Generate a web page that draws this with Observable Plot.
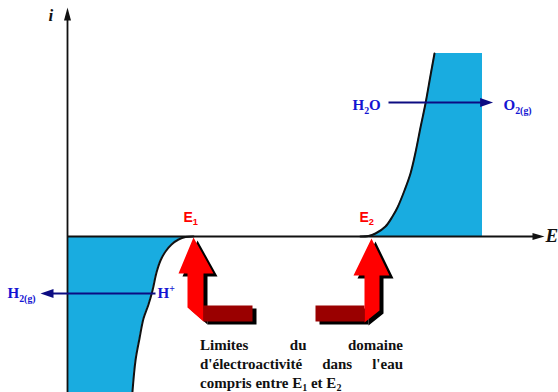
<!DOCTYPE html>
<html><head><meta charset="utf-8">
<script src="https://cdn.jsdelivr.net/npm/d3@7"></script>
<script src="https://cdn.jsdelivr.net/npm/@observablehq/plot@0.6"></script>
<style>
body{margin:0;background:#fff;}
#wrap{position:relative;width:558px;height:392px;overflow:hidden;background:#fff;}
#caption{position:absolute;left:200px;top:336px;width:203px;font-weight:bold;font-size:15px;line-height:19px;color:#111;}
#caption .j{text-align:justify;text-align-last:justify;}
#caption sub{font-size:10px;vertical-align:-3px;line-height:0;}
</style></head><body>
<div id="wrap"><div id="chart"></div><div id="caption"></div></div>
<script>
// ---- data (E in V, i in arbitrary units) ----
const cathodicE = [0.63, 0.59, 0.555, 0.52, 0.49, 0.465, 0.445, 0.425, 0.405, 0.38, 0.36, 0.34, 0.323];
const cathodicI = [0, -0.005, -0.03, -0.08, -0.15, -0.24, -0.36, -0.54, -0.68, -0.82, -1.02, -1.24, -1.6];
const anodicE = [1.465, 1.505, 1.54, 1.59, 1.625, 1.65, 1.685, 1.715, 1.74, 1.765, 1.79, 1.815, 1.835];
const anodicI = [0, 0.005, 0.03, 0.10, 0.20, 0.29, 0.46, 0.63, 0.84, 1.09, 1.33, 1.61, 1.83];
const anodicFillEdge = 2.075;

const axisLabels = [
  {text: "i", E: -0.095, i: 2.16, size: 17},
  {text: "E", E: 2.39, i: -0.05, size: 19}
];
const limitLabels = [
  {text: "E_{1}", E: 0.58, i: 0.15},
  {text: "E_{2}", E: 1.46, i: 0.15}
];
const speciesLabels = [
  {text: "H_{2}O", E: 1.425, i: 1.27},
  {text: "O_{2(g)}", E: 2.18, i: 1.27},
  {text: "H_{2(g)}", E: -0.30, i: -0.61},
  {text: "H^{+}", E: 0.45, i: -0.61}
];
const reactionArrows = [
  {E1: 1.605, i1: 1.34, E2: 2.07, i2: 1.34},
  {E1: 0.44, i1: -0.57, E2: -0.08, i2: -0.57}
];
const reactionHeads = [
  {E: 2.128, i: 1.34, dir: "right"},
  {E: -0.135, i: -0.57, dir: "left"}
];
// decorative 3D arrows pointing at E1 and E2 (vertices in E, i units)
const redArrowFront = [
  {id: "a1", E: 0.63, i: -0.01}, {id: "a1", E: 0.73, i: -0.37}, {id: "a1", E: 0.68, i: -0.37},
  {id: "a1", E: 0.68, i: -0.85}, {id: "a1", E: 0.60, i: -0.71}, {id: "a1", E: 0.60, i: -0.37},
  {id: "a1", E: 0.555, i: -0.37},
  {id: "a2", E: 1.52, i: -0.02}, {id: "a2", E: 1.61, i: -0.39}, {id: "a2", E: 1.56, i: -0.39},
  {id: "a2", E: 1.56, i: -0.74}, {id: "a2", E: 1.485, i: -0.86}, {id: "a2", E: 1.485, i: -0.39},
  {id: "a2", E: 1.43, i: -0.39}
];
const redArrowBase = [
  {id: "b1", E: 0.68, i: -0.69}, {id: "b1", E: 0.925, i: -0.69}, {id: "b1", E: 0.925, i: -0.85}, {id: "b1", E: 0.68, i: -0.85},
  {id: "b2", E: 1.24, i: -0.69}, {id: "b2", E: 1.485, i: -0.69}, {id: "b2", E: 1.485, i: -0.85}, {id: "b2", E: 1.24, i: -0.85}
];
const captionLines = ["Limites du domaine", "d'électroactivité dans l'eau", "compris entre E_{1} et E_{2}"];

// ---- font detection (pick the first installed family) ----
function pickFont(cands, generic) {
  const ctx = document.createElement("canvas").getContext("2d");
  const test = "Limites d'électroactivité Hgmw 0123";
  for (const base of ["monospace", "sans-serif"]) {
    ctx.font = `bold 30px ${base}`;
    const w0 = ctx.measureText(test).width;
    for (const f of cands) {
      ctx.font = `bold 30px "${f}", ${base}`;
      if (Math.abs(ctx.measureText(test).width - w0) > 0.5) return `"${f}", ${generic}`;
    }
  }
  return generic;
}
const serif = pickFont(["Liberation Serif", "Times New Roman", "Tinos", "DejaVu Serif", "Noto Serif", "Times"], "serif");
const sans = pickFont(["Liberation Sans", "Arial", "Arimo", "Helvetica"], "sans-serif");

// ---- build ----
const cathodic = cathodicE.map((e, k) => ({E: e, i: cathodicI[k]}));
const anodic = anodicE.map((e, k) => ({E: e, i: anodicI[k]}));

const head = (pts) => ({draw(ctx) { ctx.moveTo(pts[0][0], pts[0][1]); for (const p of pts.slice(1)) ctx.lineTo(p[0], p[1]); ctx.closePath(); }});
const upHead = head([[0, 0], [3.5, 13], [-3.5, 13]]);
const axisRightHead = head([[0, 0], [-12, 3.5], [-12, -3.5]]);
const rightHead = head([[0, 0], [-13, 4.5], [-13, -4.5]]);
const leftHead = head([[0, 0], [13, 4.5], [13, -4.5]]);

const BLUE = "#19ace0", NAVY = "#0c0c82", TXTBLUE = "#1414d2", INK = "#111";

const polys = (data, fill, extra = {}) => Plot.line(data, {x: "E", y: "i", z: "id", fill, stroke: "none", curve: "linear-closed", ...extra});

const chart = Plot.plot({
  width: 558, height: 392, margin: 0,
  x: {domain: [-0.335, 2.455], axis: null},
  y: {domain: [-1.56, 2.36], axis: null},
  style: {background: "transparent", overflow: "visible"},
  marks: [
    Plot.areaX(cathodic, {x1: 0, x2: "E", y: "i", fill: BLUE, curve: "catmull-rom", clip: true}),
    Plot.areaX(anodic, {x1: "E", x2: anodicFillEdge, y: "i", fill: BLUE, curve: "catmull-rom"}),
    Plot.ruleY([0], {x1: 0, x2: 2.33, stroke: INK, strokeWidth: 1.8}),
    Plot.ruleX([0], {y1: -1.6, y2: 2.2, stroke: INK, strokeWidth: 1.8}),
    Plot.dot([{E: 0, i: 2.29}], {x: "E", y: "i", symbol: upHead, fill: INK, stroke: "none"}),
    Plot.dot([{E: 2.385, i: 0}], {x: "E", y: "i", symbol: axisRightHead, fill: INK, stroke: "none"}),
    Plot.line(cathodic, {x: "E", y: "i", stroke: INK, strokeWidth: 2, curve: "catmull-rom", clip: true}),
    Plot.line(anodic, {x: "E", y: "i", stroke: INK, strokeWidth: 2, curve: "catmull-rom"}),
    Plot.link(reactionArrows, {x1: "E1", y1: "i1", x2: "E2", y2: "i2", stroke: NAVY, strokeWidth: 1.8}),
    Plot.dot(reactionHeads.filter(d => d.dir === "right"), {x: "E", y: "i", symbol: rightHead, fill: NAVY, stroke: "none"}),
    Plot.dot(reactionHeads.filter(d => d.dir === "left"), {x: "E", y: "i", symbol: leftHead, fill: NAVY, stroke: "none"}),
    polys(redArrowFront, "#000", {dx: 4, dy: 3}),
    polys(redArrowBase, "#000", {dx: 4, dy: 3}),
    polys(redArrowBase, "#9a0000"),
    polys(redArrowFront, "#ff0000"),
    Plot.text(axisLabels, {x: "E", y: "i", text: "text", fontSize: "size", textAnchor: "start", lineAnchor: "bottom",
      fontFamily: serif, fontWeight: "bold", fontStyle: "italic", fill: INK}),
    Plot.text(limitLabels, {x: "E", y: "i", text: "text", fontSize: 14, textAnchor: "start", lineAnchor: "bottom",
      fontFamily: sans, fontWeight: "bold", fill: "#ff0000"}),
    Plot.text(speciesLabels, {x: "E", y: "i", text: "text", fontSize: 15, textAnchor: "start", lineAnchor: "bottom",
      fontFamily: serif, fontWeight: "bold", fill: TXTBLUE})
  ]
});
document.getElementById("chart").appendChild(chart);

// sub/superscript rendering for labels written as X_{n} / X^{n}
function richText(svg) {
  svg.querySelectorAll("text").forEach(t => {
    const s = t.textContent;
    if (!/[_^]\{/.test(s)) return;
    const fs = parseFloat(getComputedStyle(t).fontSize) || 14;
    t.textContent = "";
    let shift = 0;
    const re = /([_^])\{([^}]*)\}|([^_^]+)/g;
    let m;
    while ((m = re.exec(s))) {
      const sp = document.createElementNS("http://www.w3.org/2000/svg", "tspan");
      let target = 0;
      if (m[1]) {
        sp.textContent = m[2];
        sp.setAttribute("font-size", (fs * 0.66) + "px");
        target = m[1] === "_" ? fs * 0.28 : -fs * 0.38;
      } else sp.textContent = m[3];
      const d = target - shift;
      if (d) sp.setAttribute("dy", d);
      shift = target;
      t.appendChild(sp);
    }
  });
}
richText(chart);

const cap = document.getElementById("caption");
cap.style.fontFamily = serif;
captionLines.forEach((line, k) => {
  const div = document.createElement("div");
  if (k < captionLines.length - 1) div.className = "j";
  div.innerHTML = line.replace(/_\{([^}]*)\}/g, "<sub>$1</sub>");
  cap.appendChild(div);
});
</script>
</body></html>
